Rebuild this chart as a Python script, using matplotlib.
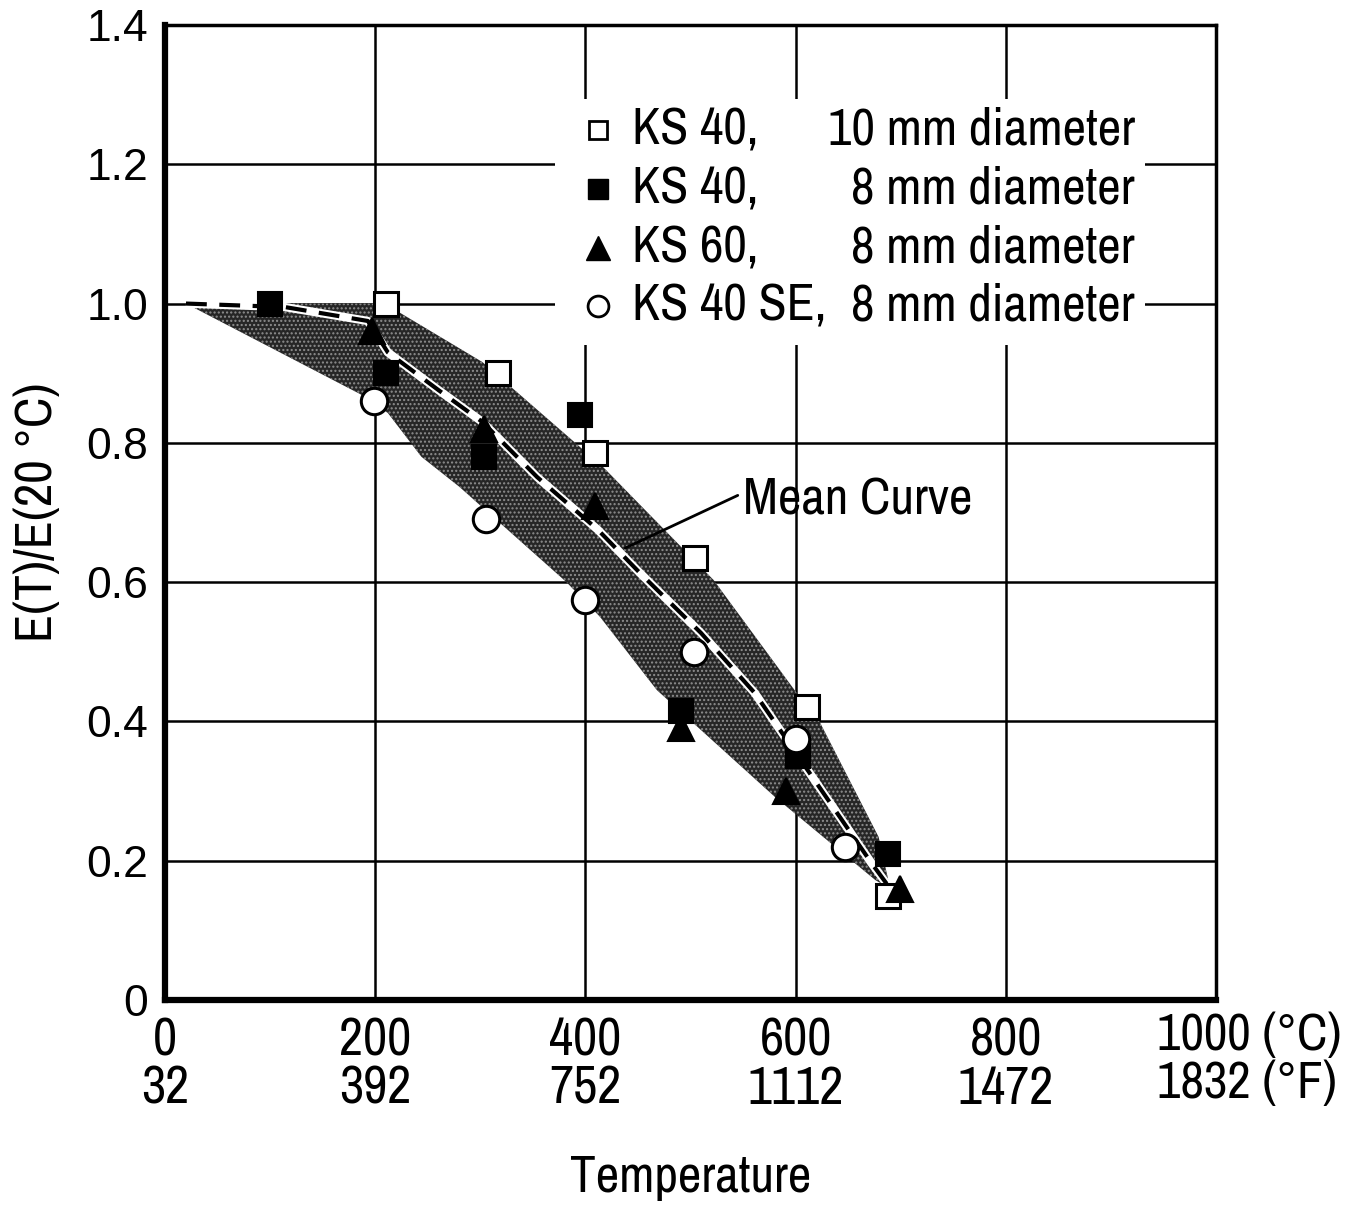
import numpy as np
import matplotlib
matplotlib.use("Agg")
import matplotlib.pyplot as plt
from matplotlib.patches import Rectangle

# ---------------- data ----------------
x_ticks = [0, 200, 400, 600, 800, 1000]
x_tick_labels_C = ["0", "200", "400", "600", "800", "1000 (°C)"]
x_tick_labels_F = ["32", "392", "752", "1112", "1472", "1832 (°F)"]
y_ticks = [0, 0.2, 0.4, 0.6, 0.8, 1.0, 1.2, 1.4]
y_tick_labels = ["0", "0.2", "0.4", "0.6", "0.8", "1.0", "1.2", "1.4"]

ks40_10_T = [210, 317, 409, 504, 611, 688]
ks40_10_E = [1.00, 0.90, 0.785, 0.635, 0.42, 0.15]

ks40_8_T = [100, 210, 304, 395, 491, 602, 688]
ks40_8_E = [1.00, 0.90, 0.78, 0.84, 0.415, 0.35, 0.21]

ks60_8_T = [197, 304, 409, 491, 591, 699]
ks60_8_E = [0.96, 0.82, 0.71, 0.39, 0.30, 0.16]

ks40se_8_T = [199, 305, 400, 503, 600, 647]
ks40se_8_E = [0.86, 0.69, 0.575, 0.50, 0.375, 0.22]

band_upper_T = [20, 210, 220, 302, 417, 522, 599, 622, 679, 690]
band_upper_E = [1.00, 1.00, 0.99, 0.916, 0.765, 0.603, 0.445, 0.402, 0.234, 0.16]
band_lower_T = [20, 187, 212, 244, 280, 382, 414, 468, 580, 676, 690]
band_lower_E = [1.00, 0.869, 0.843, 0.78, 0.737, 0.60, 0.55, 0.445, 0.292, 0.172, 0.16]

mean_T = [20, 114, 193, 212, 260, 302, 354, 412, 452, 510, 561, 672, 690]
mean_E = [1.00, 0.995, 0.975, 0.93, 0.876, 0.83, 0.751, 0.675, 0.613, 0.527, 0.441, 0.197, 0.16]

legend_names = ["KS 40,", "KS 40,", "KS 60,", "KS 40 SE,"]
legend_sizes = ["10 mm diameter", "8 mm diameter", "8 mm diameter", "8 mm diameter"]

# ---------------- style ----------------
NARROW = ["Archivo Narrow", "Roboto Condensed", "DejaVu Sans"]
REG = ["Liberation Sans", "DejaVu Sans"]
FS = 37
FT = 38

fig = plt.figure(figsize=(13.51, 12.07), dpi=100)
ax = fig.add_axes([0.1221, 0.1715, 0.9001 - 0.1221, 0.9793 - 0.1715])
ax.set_xlim(0, 1000)
ax.set_ylim(0, 1.4)

# grid
ax.set_xticks(x_ticks)
ax.set_yticks(y_ticks)
ax.grid(True, color="black", linewidth=1.8, zorder=0)
ax.set_axisbelow(True)
ax.tick_params(axis="y", length=0, pad=12)
ax.tick_params(axis="x", length=0, pad=12)

ax.set_yticklabels(y_tick_labels, fontsize=32, family=REG)
xlabels = [c + "\n" + f for c, f in zip(x_tick_labels_C, x_tick_labels_F)]
ax.set_xticklabels(xlabels[:-1] + [""], fontsize=FT, family=NARROW, linespacing=1.0)
# last (unit-bearing) tick label, number centred near the tick
ax.text(0.944, -0.0123, xlabels[-1], transform=ax.transAxes, ha="left",
        va="top", fontsize=FT - 1, family=NARROW, linespacing=1.03)

for s in ["left", "bottom"]:
    ax.spines[s].set_linewidth(4.5)
for s in ["top", "right"]:
    ax.spines[s].set_linewidth(2.5)

# band
ax.fill(np.concatenate([band_upper_T, band_lower_T[::-1]]),
        np.concatenate([band_upper_E, band_lower_E[::-1]]),
        facecolor="#262626", edgecolor="#8e8e8e", hatch="....", linewidth=0, zorder=2)

# mean curve
ax.plot(mean_T, mean_E, color="white", lw=6, zorder=3, solid_capstyle="butt")
ax.plot(mean_T, mean_E, color="black", lw=3, ls=(0, (5, 3)), zorder=3.1)

# markers
ms = 17
ax.plot(ks40_10_T, ks40_10_E, ls="none", marker="s", ms=ms, mfc="white", mec="black", mew=2.2, zorder=5)
ax.plot(ks40_8_T, ks40_8_E, ls="none", marker="s", ms=ms, mfc="black", mec="black", mew=1.5, zorder=5)
ax.plot(ks60_8_T, ks60_8_E, ls="none", marker="^", ms=ms + 2, mfc="black", mec="black", mew=1.5, zorder=5)
ax.plot(ks40se_8_T, ks40se_8_E, ls="none", marker="o", ms=ms + 2, mfc="white", mec="black", mew=2.2, zorder=5)

# mean curve annotation
ax.annotate("Mean Curve", xy=(438, 0.649), xytext=(550, 0.718),
            fontsize=FS, family=NARROW, va="center", ha="left",
            arrowprops=dict(arrowstyle="-", color="black", lw=2,
                            shrinkA=2, shrinkB=0, relpos=(0, 0.65)), zorder=6)

# legend (manual)
ax.add_patch(Rectangle((0.371, 0.672), 0.561, 0.252, transform=ax.transAxes,
                       facecolor="white", edgecolor="none", zorder=1))
rows_y = [0.892, 0.832, 0.771, 0.712]
mk = [dict(marker="s", ms=13, mfc="white", mec="black", mew=2),
      dict(marker="s", ms=15, mfc="black", mec="black", mew=1),
      dict(marker="^", ms=17, mfc="black", mec="black", mew=1),
      dict(marker="o", ms=15, mfc="white", mec="black", mew=2)]
for yy, m, n, s in zip(rows_y, mk, legend_names, legend_sizes):
    ax.plot([0.412], [yy], ls="none", transform=ax.transAxes, zorder=7, clip_on=False, **m)
    ax.text(0.444, yy, n, transform=ax.transAxes, fontsize=FS, family=NARROW,
            ha="left", va="center", zorder=7)
    ax.text(0.923, yy, s, transform=ax.transAxes, fontsize=FS, family=NARROW,
            ha="right", va="center", zorder=7)

ax.set_ylabel("E(T)/E(20 °C)", fontsize=37, family=NARROW, labelpad=18)
ax.set_xlabel("Temperature", fontsize=FS, family=NARROW, labelpad=30)

fig.savefig("out.png", dpi=100)
